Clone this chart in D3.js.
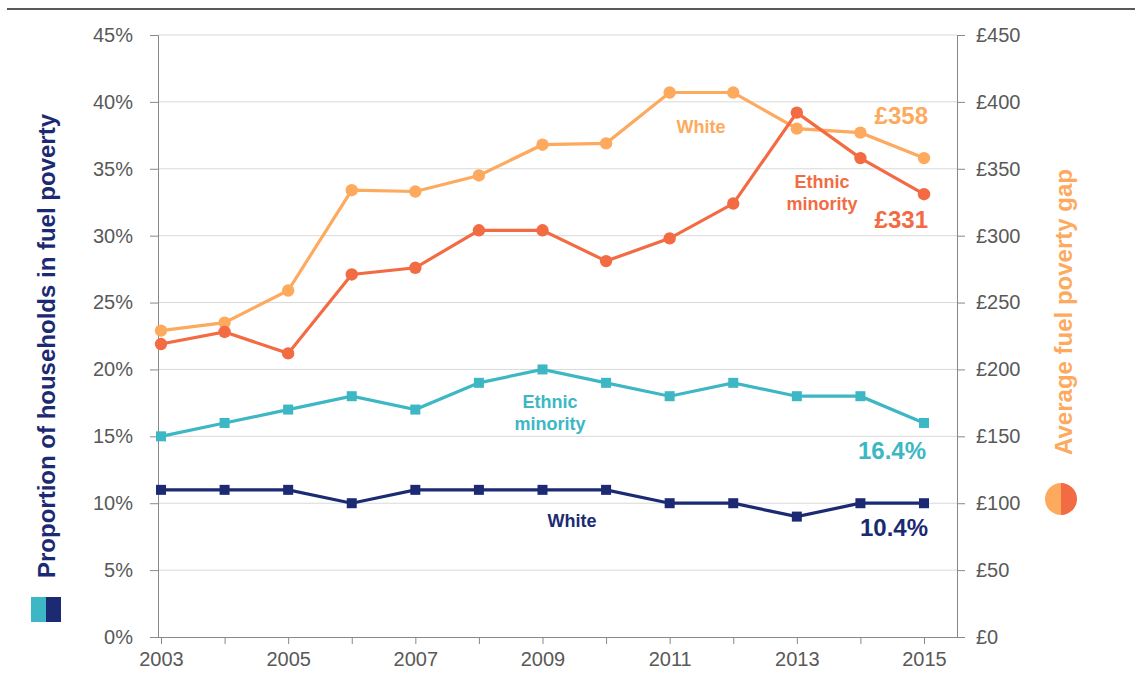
<!DOCTYPE html>
<html>
<head>
<meta charset="utf-8">
<script src="https://cdn.jsdelivr.net/npm/d3@7"></script>
<style>
  body { margin: 0; background: #fff; }
  svg { font-family: "Liberation Sans", Arial, sans-serif; }
</style>
</head>
<body>
<div id="chart"></div>
<script>
const years = [2003, 2004, 2005, 2006, 2007, 2008, 2009, 2010, 2011, 2012, 2013, 2014, 2015];
// proportion of households in fuel poverty (%)
const shareEthnic = [15, 16, 17, 18, 17, 19, 20, 19, 18, 19, 18, 18, 16];
const shareWhite = [11, 11, 11, 10, 11, 11, 11, 11, 10, 10, 9, 10, 10];
// average fuel poverty gap (£)
const gapWhite = [229, 235, 259, 334, 333, 345, 368, 369, 407, 407, 380, 377, 358];
const gapEthnic = [219, 228, 212, 271, 276, 304, 304, 281, 298, 324, 392, 358, 331];
const pctTicks = [0, 5, 10, 15, 20, 25, 30, 35, 40, 45];
const gbpTicks = [0, 50, 100, 150, 200, 250, 300, 350, 400, 450];
const yearTicks = [2003, 2005, 2007, 2009, 2011, 2013, 2015];

const width = 1135, height = 678;
const plotLeft = 158, plotRight = 957, plotTop = 35, plotBottom = 637;

const navy = "#1b2a72", teal = "#3db7c4", lightOrange = "#fdaa5e", tomato = "#f26b43";
const grey = "#595959";

const svg = d3.select("#chart").append("svg")
  .attr("width", width)
  .attr("height", height);

const x = d3.scaleLinear().domain([2003, 2015]).range([161, 924]);
const yPct = d3.scaleLinear().domain([0, 45]).range([plotBottom, plotTop]);
const yGbp = d3.scaleLinear().domain([0, 450]).range([plotBottom, plotTop]);

// rule at the top
svg.append("line")
  .attr("x1", 7).attr("x2", width).attr("y1", 9).attr("y2", 9)
  .attr("stroke", "#222").attr("stroke-width", 1.5);

// gridlines
svg.append("g")
  .selectAll("line")
  .data(pctTicks.slice(1))
  .join("line")
  .attr("x1", plotLeft).attr("x2", plotRight)
  .attr("y1", d => yPct(d)).attr("y2", d => yPct(d))
  .attr("stroke", "#d9d9d9").attr("stroke-width", 1);

// axes
const axisL = svg.append("g")
  .attr("transform", `translate(${plotLeft},0)`)
  .call(d3.axisLeft(yPct).tickValues(pctTicks).tickFormat(d => d + "%").tickSize(8).tickPadding(17));
const axisR = svg.append("g")
  .attr("transform", `translate(${plotRight},0)`)
  .call(d3.axisRight(yGbp).tickValues(gbpTicks).tickFormat(d => "£" + d).tickSize(8).tickPadding(11));
const axisB = svg.append("g")
  .attr("transform", `translate(0,${plotBottom})`)
  .call(d3.axisBottom(x).tickValues(years).tickFormat(d => yearTicks.includes(d) ? d : "").tickSize(7).tickPadding(8));
axisB.select(".domain").attr("d", `M${plotLeft},0.5H${plotRight}`);

[axisL, axisR, axisB].forEach(a => {
  a.select(".domain").attr("stroke", "#888");
  a.selectAll(".tick line").attr("stroke", "#888");
  a.selectAll("text").attr("fill", grey).attr("font-size", 20)
    .attr("font-family", "'Liberation Sans', Arial, sans-serif");
});

// lines
const series = [
  { values: gapWhite, y: yGbp, color: lightOrange, shape: "circle" },
  { values: gapEthnic, y: yGbp, color: tomato, shape: "circle" },
  { values: shareEthnic, y: yPct, color: teal, shape: "square" },
  { values: shareWhite, y: yPct, color: navy, shape: "square" }
];

series.forEach(s => {
  const line = d3.line().x((d, i) => x(years[i])).y(d => s.y(d));
  svg.append("path")
    .attr("d", line(s.values))
    .attr("fill", "none")
    .attr("stroke", s.color)
    .attr("stroke-width", 3.2);
  const g = svg.append("g").attr("fill", s.color);
  if (s.shape === "circle") {
    g.selectAll("circle").data(s.values).join("circle")
      .attr("cx", (d, i) => x(years[i]))
      .attr("cy", d => s.y(d))
      .attr("r", 6.2);
  } else {
    g.selectAll("rect").data(s.values).join("rect")
      .attr("x", (d, i) => x(years[i]) - 5)
      .attr("y", d => s.y(d) - 5)
      .attr("width", 10).attr("height", 10);
  }
});

// in-chart labels
function label(txt, lx, ly, color, size, anchor) {
  const t = svg.append("text")
    .attr("x", lx).attr("y", ly)
    .attr("fill", color)
    .attr("font-size", size)
    .attr("font-weight", "bold")
    .attr("text-anchor", anchor);
  txt.split("\n").forEach((line, i) => {
    t.append("tspan").attr("x", lx).attr("dy", i ? "1.2em" : 0).text(line);
  });
}
label("White", 701, 133, lightOrange, 18, "middle");
label("Ethnic\nminority", 822, 188, tomato, 18, "middle");
label("£358", 928, 124, lightOrange, 24, "end");
label("£331", 928, 228, tomato, 24, "end");
label("Ethnic\nminority", 550, 408, teal, 18, "middle");
label("16.4%", 926, 459, teal, 24, "end");
label("White", 572, 527, navy, 18, "middle");
label("10.4%", 928, 536, navy, 24, "end");

// axis titles
svg.append("text")
  .attr("transform", "translate(55,346) rotate(-90)")
  .attr("text-anchor", "middle")
  .attr("fill", navy)
  .attr("font-size", 24)
  .attr("font-weight", "bold")
  .text("Proportion of households in fuel poverty");

svg.append("text")
  .attr("transform", "translate(1072,312) rotate(-90)")
  .attr("text-anchor", "middle")
  .attr("fill", lightOrange)
  .attr("font-size", 24)
  .attr("font-weight", "bold")
  .text("Average fuel poverty gap");

// legend keys
svg.append("rect").attr("x", 31).attr("y", 597).attr("width", 15).attr("height", 25).attr("fill", teal);
svg.append("rect").attr("x", 46).attr("y", 597).attr("width", 15).attr("height", 25).attr("fill", navy);

const cx = 1061, cy = 499, r = 16;
svg.append("path")
  .attr("d", d3.arc().innerRadius(0).outerRadius(r).startAngle(Math.PI).endAngle(2 * Math.PI)())
  .attr("transform", `translate(${cx},${cy})`)
  .attr("fill", lightOrange);
svg.append("path")
  .attr("d", d3.arc().innerRadius(0).outerRadius(r).startAngle(0).endAngle(Math.PI)())
  .attr("transform", `translate(${cx},${cy})`)
  .attr("fill", tomato);
</script>
</body>
</html>
